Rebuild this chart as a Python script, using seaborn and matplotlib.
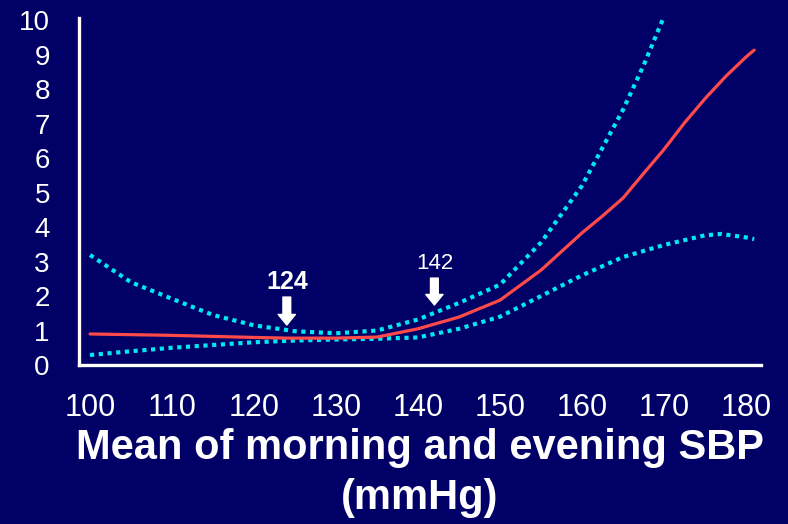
import matplotlib
matplotlib.use("Agg")
import matplotlib.pyplot as plt
import seaborn as sns
import pandas as pd

# Spline estimate of relative risk vs. home systolic blood pressure
sbp_mid = [100, 105, 110, 115, 120, 124, 130, 135, 140, 145, 150, 155, 160, 162.5, 165, 167.5, 170, 172.5, 175, 177.5, 180, 181]
risk_mid = [0.90, 0.88, 0.86, 0.83, 0.80, 0.78, 0.78, 0.81, 1.05, 1.39, 1.88, 2.75, 3.83, 4.32, 4.84, 5.55, 6.25, 7.02, 7.72, 8.36, 8.93, 9.13]

sbp_upper = [100, 105, 110, 115, 120, 125, 130, 135, 140, 145, 150, 155, 160, 162.5, 165, 167.5, 170]
risk_upper = [3.19, 2.40, 1.92, 1.45, 1.15, 0.98, 0.92, 1.00, 1.32, 1.80, 2.33, 3.55, 5.20, 6.30, 7.40, 8.68, 10.1]

sbp_lower = [100, 105, 110, 115, 120, 125, 130, 135, 140, 145, 150, 155, 160, 165, 170, 175, 177, 180, 181]
risk_lower = [0.29, 0.40, 0.50, 0.58, 0.66, 0.71, 0.74, 0.76, 0.80, 1.05, 1.40, 2.00, 2.60, 3.13, 3.48, 3.76, 3.80, 3.70, 3.65]

x_ticks = [100, 110, 120, 130, 140, 150, 160, 170, 180]
y_ticks = list(range(0, 11))

# (position, label, weight, size, label baseline, arrow top, arrow tip)
markers = [(124, "124", "bold", 18, 2.20, 1.97, 1.16),
           (142, "142", "normal", 16, 2.78, 2.52, 1.74)]
x_label = "Mean of morning and evening SBP\n(mmHg)"

BG = "#000066"
RED = "#FF4A4A"
CYAN = "#00E8F0"

sns.set_theme(style="white")
plt.rcParams["font.family"] = ["Liberation Sans", "DejaVu Sans"]

fig = plt.figure(figsize=(7.88, 5.24), dpi=100, facecolor=BG)
ax = fig.add_axes([0.1003, 0.3034, 0.8654, 0.6622])
ax.set_facecolor(BG)

df_mid = pd.DataFrame({"sbp": sbp_mid, "risk": risk_mid})
df_up = pd.DataFrame({"sbp": sbp_upper, "risk": risk_upper})
df_lo = pd.DataFrame({"sbp": sbp_lower, "risk": risk_lower})

dot_kw = dict(color=CYAN, linewidth=3.0, dashes=(1, 1.1))
sns.lineplot(data=df_up, x="sbp", y="risk", ax=ax, **dot_kw)
sns.lineplot(data=df_lo, x="sbp", y="risk", ax=ax, **dot_kw)
sns.lineplot(data=df_mid, x="sbp", y="risk", ax=ax, color=RED, linewidth=2.3)
for ln in ax.lines:
    ln.set_dash_capstyle("butt")
    ln.set_solid_joinstyle("round")

# Downward arrows with value labels
for xv, txt, weight, size, base, top, tip in markers:
    ax.annotate("", xy=(xv, tip), xytext=(xv, top),
                arrowprops=dict(arrowstyle="simple,head_length=0.38,head_width=0.62,tail_width=0.28",
                                color="white", shrinkA=0, shrinkB=0, mutation_scale=20))
    ax.text(xv, base, txt, color="white", fontsize=size, fontweight=weight,
            ha="center", va="baseline")

ax.set_xlim(98.66, 181.83)
ax.set_ylim(0, 10.06)
ax.set_xticks(x_ticks)
ax.set_yticks(y_ticks)
ax.set_xticklabels([str(v) for v in x_ticks], fontsize=22, color="white")
ax.set_yticklabels([str(v) for v in y_ticks], fontsize=20, color="white")
ax.tick_params(axis="y", direction="out", length=3, width=2, color="white", pad=18)
ax.tick_params(axis="x", direction="in", length=2.5, width=2, color=BG, pad=20)

for side in ("top", "right"):
    ax.spines[side].set_visible(False)
for side in ("left", "bottom"):
    ax.spines[side].set_color("white")
    ax.spines[side].set_linewidth(2.4)

ax.set_xlabel(x_label, fontsize=30, fontweight="bold", color="white", labelpad=4,
              linespacing=1.32)
ax.set_ylabel("")

fig.savefig("out.png", dpi=100, facecolor=BG)
